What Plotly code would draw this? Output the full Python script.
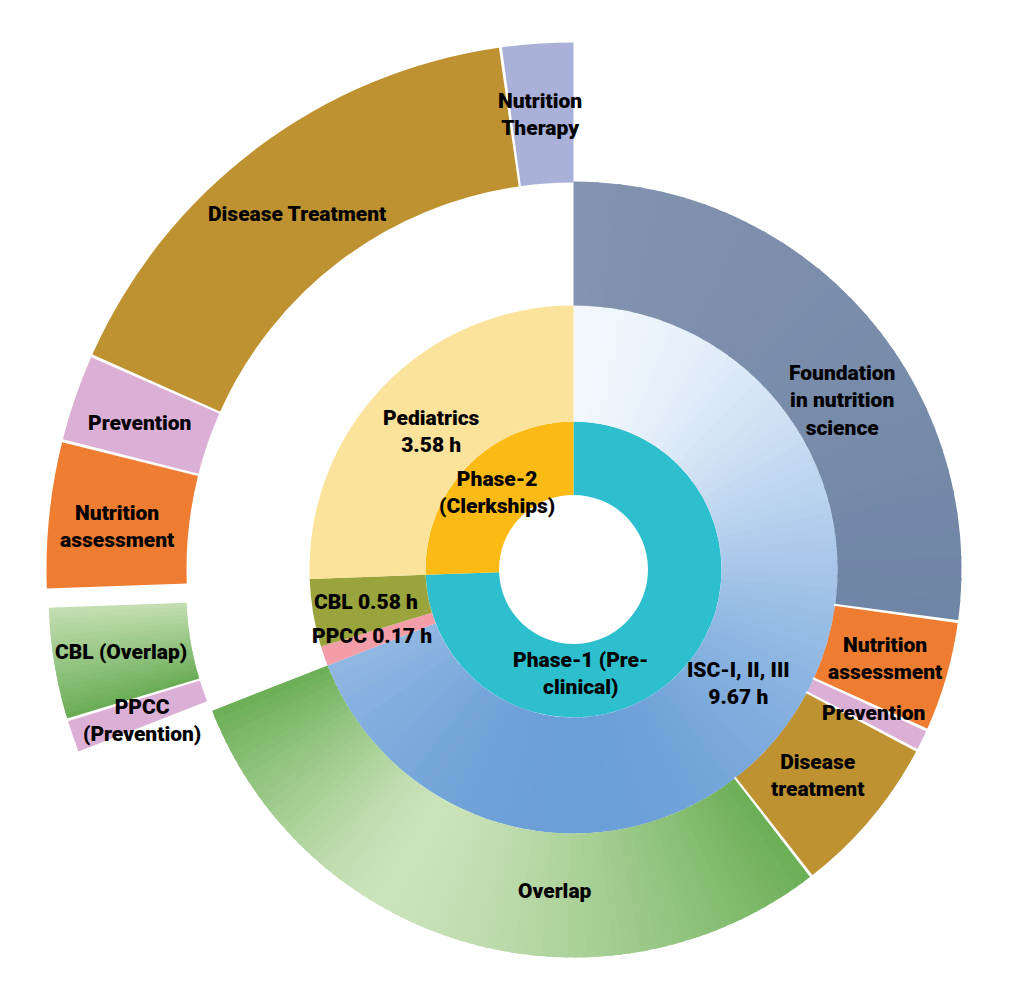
import math
import plotly.graph_objects as go

# ---------------- data (hours) ----------------
phase_labels = ["Phase-1 (Pre-clinical)", "Phase-2 (Clerkships)"]
course_labels = ["ISC-I, II, III", "PPCC", "CBL", "Pediatrics"]
course_hours = [9.67, 0.17, 0.58, 3.58]
course_phase = [0, 0, 0, 1]          # inner-ring group of each course (as drawn)

isc_topics = ["Foundation in nutrition science", "Nutrition assessment",
              "Prevention", "Disease treatment", "Overlap"]
isc_topic_hours = [3.80, 0.65, 0.13, 0.95, 4.14]

ped_topics = ["Nutrition assessment", "Prevention", "Disease Treatment", "Nutrition Therapy"]
ped_topic_hours = [0.63, 0.38, 2.26, 0.31]

cp_topics = ["PPCC (Prevention)", "CBL (Overlap)"]
cp_topic_hours = [0.17, 0.58]

# ---------------- geometry / style ----------------
W, H = 1011, 993
CENTER = (573.5, 569.5)
CENTER_CP = (486.5, 592.0)      # exploded CBL / PPCC group
R_HOLE, R_INNER, R_MID, R_OUT = 74.5, 148.0, 264.0, 388.0
R_PED = (387.0, 527.0)
R_CP = (300.0, 438.0)
SEP_PX = 2.6
FONT = "Roboto"
FONT_SIZE = 21
FONT_WEIGHT = 900

TOTAL = sum(course_hours)
DEG = 360.0 / TOTAL


def spans(values, start=0.0):
    out, a = [], start
    for v in values:
        out.append((a, a + v * DEG))
        a += v * DEG
    return out


phase_hours = [sum(h for h, p in zip(course_hours, course_phase) if p == k)
               for k in range(len(phase_labels))]
phase_sp = spans(phase_hours)
course_sp = spans(course_hours)
isc_sp = spans(isc_topic_hours, course_sp[0][0])
ped_sp = spans(ped_topic_hours, course_sp[3][0])
cp_sp = spans(cp_topic_hours, course_sp[1][0])


def hex2rgb(c):
    return [int(c[i:i + 2], 16) for i in (1, 3, 5)]


def lerp(c0, c1, f):
    f = max(0.0, min(1.0, f))
    a, b = hex2rgb(c0), hex2rgb(c1)
    return "rgb(%d,%d,%d)" % tuple(round(a[k] + (b[k] - a[k]) * f) for k in range(3))


def sector_bbox(s0, s1):
    c = lambda d: math.cos(math.radians(d))
    s = lambda d: math.sin(math.radians(d))
    arc = s1 - s0
    a0 = s0 % 360
    a1 = a0 + arc
    ax0, ay0, ax1, ay1 = c(a0), s(a0), c(a1), s(a1)
    if (a0 <= 90 and a1 >= 90) or (a0 > 90 and a1 >= 450):
        y1 = 1
    elif ay0 <= 0 and ay1 <= 0:
        y1 = 0
    else:
        y1 = max(ay0, ay1)
    if (a0 <= 180 and a1 >= 180) or (a0 > 180 and a1 >= 540):
        x0 = -1
    elif ax0 >= 0 and ax1 >= 0:
        x0 = 0
    else:
        x0 = min(ax0, ax1)
    if (a0 <= 270 and a1 >= 270) or (a0 > 270 and a1 >= 630):
        y0 = -1
    elif ay0 >= 0 and ay1 >= 0:
        y0 = 0
    else:
        y0 = min(ay0, ay1)
    if a1 >= 360:
        x1 = 1
    elif ax0 <= 0 and ax1 <= 0:
        x1 = 0
    else:
        x1 = max(ax0, ax1)
    return x0, y0, x1, y1


def polar_layout(center, radius, sector=(0, 360)):
    cx, cy = center
    x0, y0, x1, y1 = sector_bbox(*sector)
    left, right = cx + radius * x0, cx + radius * x1
    top, bottom = cy - radius * y1, cy - radius * y0
    hidden = dict(showline=False, showgrid=False, showticklabels=False, ticks="")
    return dict(
        domain=dict(x=[left / W, right / W], y=[1 - bottom / H, 1 - top / H]),
        sector=list(sector),
        bgcolor="rgba(0,0,0,0)",
        barmode="overlay",
        radialaxis=dict(range=[0, radius], **hidden),
        angularaxis=dict(rotation=90, direction="clockwise", type="linear", **hidden),
    )


def ring(subplot, sp, r0, r1, colors):
    n = len(sp)
    return go.Barpolar(
        theta=[(a + b) / 2 for a, b in sp], width=[b - a for a, b in sp],
        base=[r0] * n, r=[r1 - r0] * n,
        marker=dict(color=colors, line=dict(width=0)),
        subplot=subplot, hoverinfo="skip", showlegend=False)


def gradient(subplot, a, b, r0, r1, color_fn, n=60, pad=0.5):
    step = (b - a) / n
    th, wd, cols = [], [], []
    for i in range(n):
        s = a + i * step
        e = min(b, s + step + pad)
        th.append((s + e) / 2)
        wd.append(e - s)
        cols.append(color_fn(s + step / 2))
    return go.Barpolar(
        theta=th, width=wd, base=[r0] * n, r=[r1 - r0] * n,
        marker=dict(color=cols, line=dict(width=0)),
        subplot=subplot, hoverinfo="skip", showlegend=False)


def separators(subplot, angles, r0, r1):
    w = math.degrees(SEP_PX / ((r0 + r1) / 2))
    n = len(angles)
    return go.Barpolar(
        theta=angles, width=[w] * n, base=[r0 - 1] * n, r=[r1 - r0 + 2] * n,
        marker=dict(color="white", line=dict(width=0)),
        subplot=subplot, hoverinfo="skip", showlegend=False)


fig = go.Figure()

# ---- inner ring (phases)
fig.add_trace(ring("polar", phase_sp, R_HOLE, R_INNER, ["#2DBFCE", "#FBBB14"]))

# ---- middle ring (courses)
a, b = course_sp[0]
fig.add_trace(gradient("polar", a, b, R_INNER, R_MID,
                       lambda t: lerp("#F1F7FD", "#6B9FD8", ((1 - math.cos(math.radians(t))) / 2) ** 0.85),
                       n=90))
fig.add_trace(ring("polar", course_sp[1:], R_INNER, R_MID, ["#F29DA8", "#9AA43C", "#FCE39B"]))

# ---- outer ring for ISC topics
a, b = isc_sp[0]
fig.add_trace(gradient("polar", a, b, R_MID, R_OUT,
                       lambda t, a=a, b=b: lerp("#8393B0", "#7086A6", (t - a) / (b - a)), n=30))
fig.add_trace(ring("polar", isc_sp[1:4], R_MID, R_OUT, ["#EE7D31", "#DCAFD6", "#BE9230"]))
a, b = isc_sp[4]
tc = a + 0.64 * (b - a)


def overlap_col(t, a=a, b=b, tc=tc):
    u = (tc - t) / (tc - a) if t < tc else (t - tc) / (b - tc)
    return lerp("#CBE3BB", "#6AAE55", u ** 1.4)


fig.add_trace(gradient("polar", a, b, R_MID, R_OUT, overlap_col, n=80))
fig.add_trace(separators("polar", [e for _, e in isc_sp[:-1]], R_MID, R_OUT))

# ---- exploded Pediatrics topics
fig.add_trace(ring("polar2", ped_sp, R_PED[0], R_PED[1],
                   ["#EE7D31", "#DCAFD6", "#BE9230", "#A9B1D8"]))
fig.add_trace(separators("polar2", [e for _, e in ped_sp[:-1]], R_PED[0], R_PED[1]))

# ---- exploded PPCC / CBL topics
fig.add_trace(ring("polar3", cp_sp[:1], R_CP[0], R_CP[1], ["#DCAFD6"]))
a, b = cp_sp[1]
fig.add_trace(gradient("polar3", a, b, R_CP[0], R_CP[1],
                       lambda t, a=a, b=b: lerp("#C4DFB2", "#68AC54", (b - t) / (b - a)), n=20, pad=0.3))
fig.add_trace(separators("polar3", [cp_sp[0][1]], R_CP[0], R_CP[1]))

# ---------------- labels ----------------
LABELS = [
    ("Nutrition<br>Therapy", 540, 115),
    ("Disease Treatment", 297, 214),
    ("Prevention", 139, 423),
    ("Nutrition<br>assessment", 117, 526),
    ("CBL (Overlap)", 121, 652),
    ("PPCC<br>(Prevention)", 142, 720),
    ("Foundation<br>in nutrition<br>science", 842, 400),
    ("%s<br>%.2f h" % (course_labels[3], course_hours[3]), 431, 432),
    ("Phase-2<br>(Clerkships)", 497, 492),
    ("%s %.2f h" % (course_labels[2], course_hours[2]), 366, 602),
    ("%s %.2f h" % (course_labels[1], course_hours[1]), 372, 636),
    ("Phase-1 (Pre-<br>clinical)", 581, 673),
    ("%s<br>%.2f h" % (course_labels[0], course_hours[0]), 738, 683),
    ("Nutrition<br>assessment", 885, 658),
    ("Prevention", 873, 713),
    ("Disease<br>treatment", 817, 775),
    ("Overlap", 555, 891),
]
annotations = [
    dict(text=t, x=x / W, y=1 - y / H, xref="paper", yref="paper",
         showarrow=False, xanchor="center", yanchor="middle", align="center",
         font=dict(family=FONT, size=FONT_SIZE, color="black", weight=FONT_WEIGHT))
    for t, x, y in LABELS
]

fig.update_layout(
    width=W, height=H,
    margin=dict(l=0, r=0, t=0, b=0),
    paper_bgcolor="white", plot_bgcolor="white",
    showlegend=False,
    polar=polar_layout(CENTER, 400.0),
    polar2=polar_layout(CENTER, 532.0, (89, 184)),
    polar3=polar_layout(CENTER_CP, 445.0, (178, 206)),
    annotations=annotations,
)

fig.write_html("out.html", config={"displayModeBar": False},
               post_script="document.body.style.margin='0';document.body.style.overflow='hidden';")
